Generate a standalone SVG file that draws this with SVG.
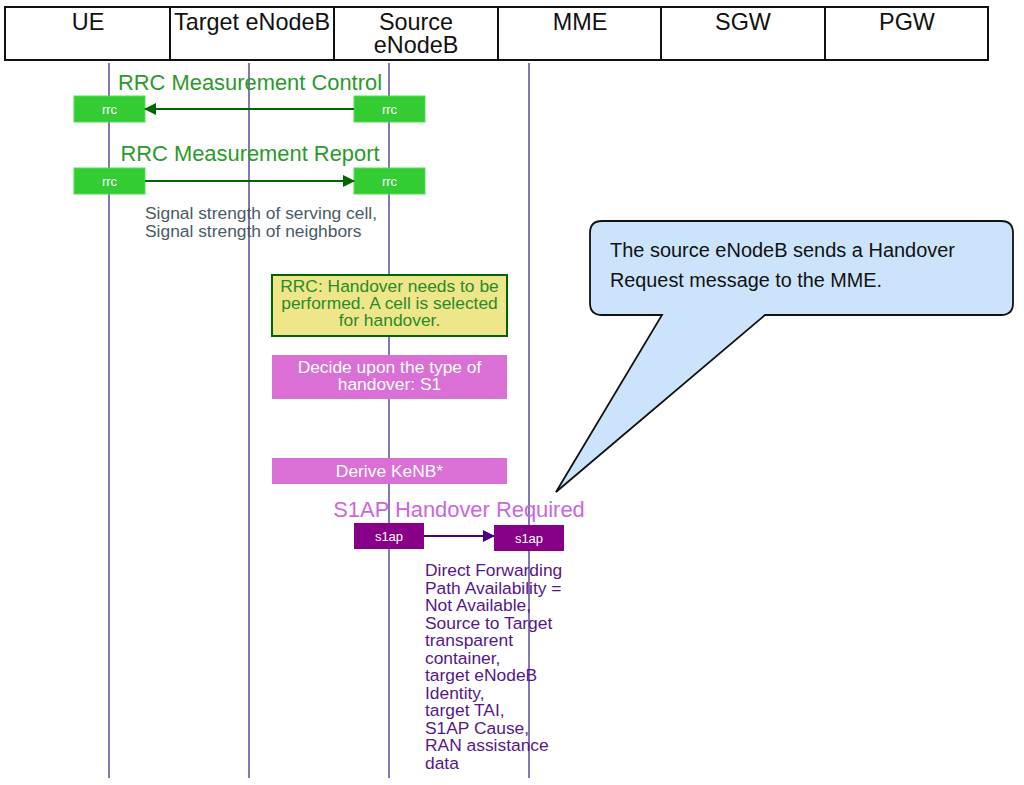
<svg xmlns="http://www.w3.org/2000/svg" width="1024" height="785" viewBox="0 0 1024 785">
<defs>
<style>
text{font-family:"Liberation Sans",Arial,sans-serif}
.hdr{font-size:23.4px;fill:#111;text-anchor:middle}
.life{stroke:#5a4a9e;stroke-width:1.5}
.rrcbox{fill:#33cc33;stroke:#55dd55;stroke-width:1}
.rrclbl{font-size:13px;fill:#fff;text-anchor:middle}
.s1box{fill:#880088}
.s1lbl{font-size:13px;fill:#fff;text-anchor:middle}
.gtitle{font-size:21.9px;fill:#2a9a2a;text-anchor:middle}
.ptitle{font-size:21.9px;fill:#cc66dd;text-anchor:middle}
.note{font-size:17.4px;fill:#4a5a66}
.ytext{font-size:17.4px;fill:#2a8a2a;text-anchor:middle}
.wtext{font-size:17.4px;fill:#fff;text-anchor:middle}
.ptext{font-size:17.4px;fill:#55178b}
.pink{fill:#da70d6}
</style>
<marker id="ag" markerWidth="12" markerHeight="12" refX="11" refY="6" orient="auto" markerUnits="userSpaceOnUse"><path d="M0,0 L12,6 L0,12 Z" fill="#006600"/></marker>
<marker id="ap" markerWidth="12" markerHeight="12" refX="11" refY="6" orient="auto" markerUnits="userSpaceOnUse"><path d="M0,0 L12,6 L0,12 Z" fill="#4b0082"/></marker>
</defs>
<rect width="1024" height="785" fill="#fff"/>
<g id="header">
<rect x="5" y="7" width="983" height="53" fill="#fff" stroke="#111" stroke-width="2"/>
<line x1="170" y1="7" x2="170" y2="60" stroke="#111" stroke-width="2"/>
<line x1="334" y1="7" x2="334" y2="60" stroke="#111" stroke-width="2"/>
<line x1="498" y1="7" x2="498" y2="60" stroke="#111" stroke-width="2"/>
<line x1="661" y1="7" x2="661" y2="60" stroke="#111" stroke-width="2"/>
<line x1="825" y1="7" x2="825" y2="60" stroke="#111" stroke-width="2"/>
<text class="hdr" x="88" y="30">UE</text>
<text class="hdr" x="252" y="30">Target eNodeB</text>
<text class="hdr" x="416" y="30">Source</text>
<text class="hdr" x="416" y="53">eNodeB</text>
<text class="hdr" x="580" y="30">MME</text>
<text class="hdr" x="743" y="30">SGW</text>
<text class="hdr" x="907" y="30">PGW</text>
</g>
<g id="lifelines">
<line class="life" x1="109" y1="63" x2="109" y2="778"/>
<line class="life" x1="249" y1="63" x2="249" y2="778"/>
<line class="life" x1="389" y1="63" x2="389" y2="778"/>
<line class="life" x1="529" y1="63" x2="529" y2="778"/>
</g>
<g id="rrc-control">
<text class="gtitle" x="250" y="90">RRC Measurement Control</text>
<rect class="rrcbox" x="74" y="96" width="71" height="26"/>
<text class="rrclbl" x="109.5" y="114">rrc</text>
<rect class="rrcbox" x="354" y="96" width="71" height="26"/>
<text class="rrclbl" x="389.5" y="114">rrc</text>
</g>
<g id="rrc-report">
<text class="gtitle" x="250" y="161">RRC Measurement Report</text>
<rect class="rrcbox" x="74" y="168" width="71" height="26"/>
<text class="rrclbl" x="109.5" y="186">rrc</text>
<rect class="rrcbox" x="354" y="168" width="71" height="26"/>
<text class="rrclbl" x="389.5" y="186">rrc</text>
<text class="note" x="145" y="219">Signal strength of serving cell,</text>
<text class="note" x="145" y="237">Signal strength of neighbors</text>
</g>
<g id="rrc-decision">
<rect x="272" y="275" width="235" height="61" fill="#efe68a" stroke="#006600" stroke-width="2"/>
<text class="ytext" x="389.5" y="292">RRC: Handover needs to be</text>
<text class="ytext" x="389.5" y="309">performed. A cell is selected</text>
<text class="ytext" x="389.5" y="326">for handover.</text>
</g>
<g id="decide-type">
<rect class="pink" x="272" y="355" width="235" height="44"/>
<text class="wtext" x="389.5" y="373">Decide upon the type of</text>
<text class="wtext" x="389.5" y="390">handover: S1</text>
</g>
<g id="derive-kenb">
<rect class="pink" x="272" y="458" width="235" height="26"/>
<text class="wtext" x="389.5" y="477">Derive KeNB*</text>
</g>
<g id="s1ap-required">
<text class="ptitle" x="459" y="517">S1AP Handover Required</text>
<rect class="s1box" x="354" y="523" width="70" height="26"/>
<text class="s1lbl" x="389" y="541">s1ap</text>
<rect class="s1box" x="494" y="525" width="70" height="26"/>
<text class="s1lbl" x="529" y="543">s1ap</text>
<text class="ptext" x="425">
<tspan x="425" y="576">Direct Forwarding</tspan>
<tspan x="425" y="593.5">Path Availability =</tspan>
<tspan x="425" y="611">Not Available,</tspan>
<tspan x="425" y="628.5">Source to Target</tspan>
<tspan x="425" y="646">transparent</tspan>
<tspan x="425" y="663.5">container,</tspan>
<tspan x="425" y="681">target eNodeB</tspan>
<tspan x="425" y="698.5">Identity,</tspan>
<tspan x="425" y="716">target TAI,</tspan>
<tspan x="425" y="733.5">S1AP Cause,</tspan>
<tspan x="425" y="751">RAN assistance</tspan>
<tspan x="425" y="768.5">data</tspan>
</text>
</g>
<g id="connectors">
<line x1="354" y1="109" x2="145" y2="109" stroke="#006600" stroke-width="2" marker-end="url(#ag)"/>
<line x1="145" y1="181" x2="354" y2="181" stroke="#006600" stroke-width="2" marker-end="url(#ag)"/>
<line x1="424" y1="536" x2="494" y2="536" stroke="#4b0082" stroke-width="2" marker-end="url(#ap)"/>
</g>
<g id="callout">
<path d="M602,221 H1001 Q1013,221 1013,233 V303 Q1013,315 1001,315 H765 L556,492 L662,315 H602 Q590,315 590,303 V233 Q590,221 602,221 Z" fill="#cce4fb" stroke="#111" stroke-width="1.8"/>
<text x="610" y="257" font-size="20" fill="#111" textLength="345" lengthAdjust="spacingAndGlyphs">The source eNodeB sends a Handover</text>
<text x="610" y="287" font-size="20" fill="#111" textLength="272" lengthAdjust="spacingAndGlyphs">Request message to the MME.</text>
</g>
</svg>
